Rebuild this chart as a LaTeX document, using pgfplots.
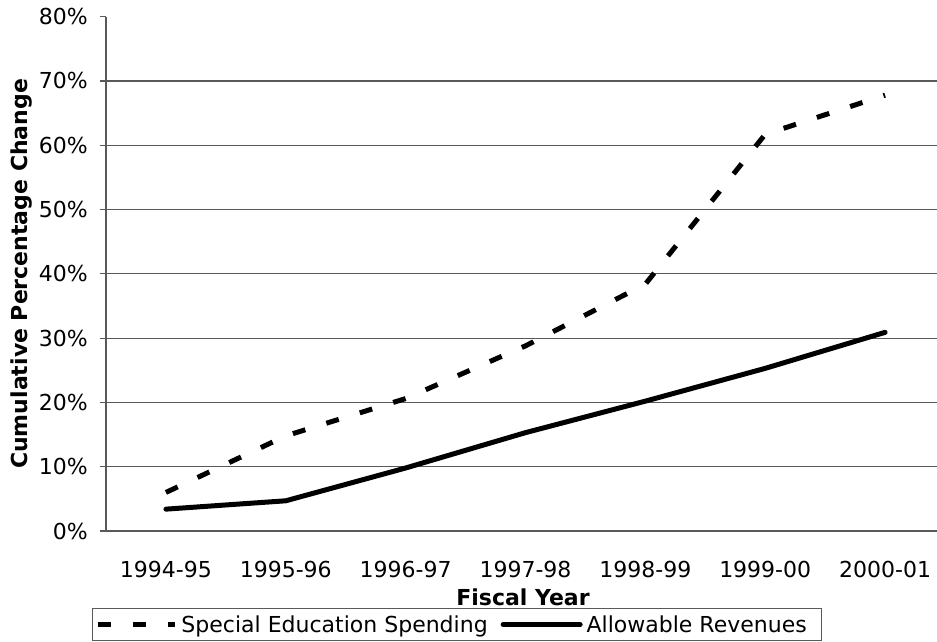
\documentclass[border=0pt]{standalone}
\usepackage{fontspec}
\setmainfont{DejaVu Sans}
\usepackage{pgfplots}
\pgfplotsset{compat=1.18}

\begin{document}
\begin{tikzpicture}[font=\fontsize{22}{26}\selectfont]
\clip (0pt,0pt) rectangle (937pt,641pt);
\begin{axis}[
    at={(106pt,110pt)}, anchor=south west,
    scale only axis, width=839pt, height=514.3pt,
    xmin=-0.5, xmax=6.5, ymin=0, ymax=80,
    axis x line*=bottom, axis y line*=left,
    axis line style={black!65, line width=1.2pt, -},
    xtick={0,...,6},
    xticklabels={1994-95,1995-96,1996-97,1997-98,1998-99,1999-00,2000-01},
    xtick style={draw=none},
    minor xtick={-0.5,0.5,...,5.5},
    minor tick length=7pt,
    minor tick style={black!65, line width=1.2pt},
    ytick={0,10,...,70},
    extra y ticks={80},
    extra tick style={grid=none},
    ytick style={black!65, line width=1.2pt},
    major tick length=6pt,
    tick align=outside,
    ymajorgrids,
    grid style={black!65, line width=1.2pt},
    yticklabel={\pgfmathprintnumber{\tick}\%},
    /pgf/number format/assume math mode=true,
    xticklabel style={anchor=base, inner sep=0pt, yshift=-40pt},
    yticklabel style={anchor=east, inner sep=0pt, xshift=-12pt},
    xlabel={\bfseries Fiscal Year},
    xlabel style={at={(axis description cs:0.497,-0.1439)}, anchor=base},
    ylabel={\bfseries Cumulative Percentage Change},
    ylabel style={at={(axis description cs:-0.101,0.5)}, anchor=center},
    legend columns=-1,
    legend style={at={(-0.0167,-0.1497)}, anchor=north west,
        draw=black!65, line width=1pt, inner xsep=3pt, inner ysep=3pt,
        font=\fontsize{22}{26}\selectfont,
        nodes={inner xsep=4pt, inner ysep=4pt},
        /tikz/every even column/.append style={column sep=9pt}},
    legend image code/.code={\draw[#1] (0pt,0pt) -- (77pt,0pt);},
]
\addplot[black, line width=5pt, dash pattern=on 13pt off 22pt, line join=round]
    coordinates {(0,6.0) (1,14.8) (2,20.6) (3,28.8) (4,38.4) (5,61.7) (6,67.8)};
\addlegendentry{Special Education Spending}
\addplot[black, line width=5pt, line cap=round, line join=round]
    coordinates {(0,3.4) (1,4.7) (2,9.8) (3,15.3) (4,20.2) (5,25.3) (6,30.9)};
\addlegendentry{Allowable Revenues\rule{8pt}{0pt}}
\end{axis}
\end{tikzpicture}
\end{document}
